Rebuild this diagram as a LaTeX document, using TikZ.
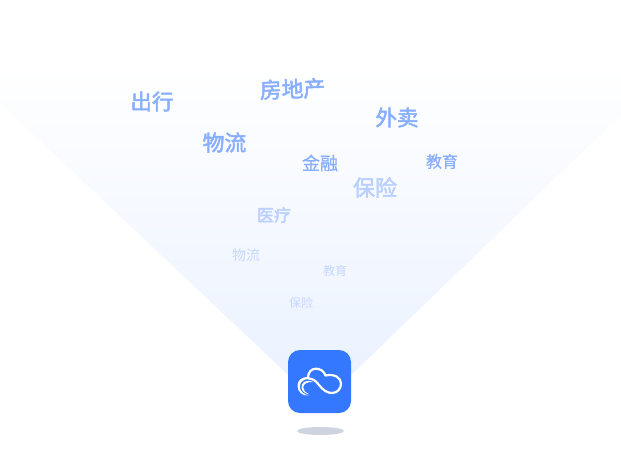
\documentclass[tikz,border=0pt]{standalone}
\usepackage{fontspec}
\setmainfont{Noto Sans CJK SC}
\newfontfamily\wordheavy[FakeBold=2.2]{Noto Sans CJK SC}
\newfontfamily\wordmedium[FakeBold=0.5]{Noto Sans CJK SC}
\definecolor{fanblue}{HTML}{E9F1FF}
\definecolor{iconblue}{HTML}{3478FF}
\definecolor{shadowgray}{HTML}{CDD3DF}
\definecolor{wordstrong}{HTML}{88AEFF}
\definecolor{wordmid}{HTML}{BAD0FF}
\definecolor{wordpale}{HTML}{C6D7FF}
\tikzset{
	wordnear/.style={text=wordstrong, inner sep=0pt, font=\wordheavy\fontsize{#1}{#1}\selectfont},
	wordsmall/.style={text=wordstrong, inner sep=0pt, font=\wordmedium\fontsize{#1}{#1}\selectfont},
	wordmiddle/.style={text=wordmid, inner sep=0pt, font=\wordheavy\fontsize{#1}{#1}\selectfont},
	wordfar/.style={text=wordpale, inner sep=0pt, font=\fontsize{#1}{#1}\selectfont},
	cloudline/.style={draw=white, line cap=round, line join=round, fill=none}
}
\begin{document}
\begin{tikzpicture}[x=1pt, y=-1pt]
		\useasboundingbox (0,0) rectangle (621,461);

		\shade[top color=white, bottom color=fanblue, shading angle=0]
			(0,65) -- (621,65) -- (621,115) -- (320,405) -- (0,103) -- cycle;

		\node[wordnear=21.5] (travel) at(152, 101.5){出行};
		\node[wordnear=21.8, rotate=2] (estate) at(292.5, 89){房地产};
		\node[wordnear=21.5] (takeout) at(397, 117.5){外卖};
		\node[wordnear=21.8] (goodsa) at(224.5, 142.5){物流};
		\node[wordsmall=18] (finance) at(320, 163){金融};
		\node[wordsmall=16] (edua) at(442, 161.5){教育};

		\node[wordmiddle=22] (insurea) at(375, 187.5){保险};
		\node[wordmiddle=17] (medical) at(274, 215){医疗};

		\node[wordfar=14] (goodsb) at(246, 255.5){物流};
		\node[wordfar=12] (edub) at(335, 271){教育};
		\node[wordfar=12] (insureb) at(301, 302.5){保险};

		\draw[fill=iconblue, draw=none, rounded corners=12] (288,350) rectangle (351,413);
			\draw[cloudline, line width=2.2]
				(308.5,378.5) .. controls (313,378.5) and (316,381) .. (319,385)
				.. controls (323,390) and (327,393) .. (332,393)
				.. controls (338,393) and (341,388) .. (341,383.5)
				.. controls (341,378) and (335,373.5) .. (325.5,375.5)
				.. controls (324,371) and (320,368.7) .. (316,368.7)
				.. controls (311,368.7) and (308,372.5) .. (308,378);
			\fill[white]
				(309,377) .. controls (301,376.5) and (297,381) .. (297.5,386.5)
				.. controls (298,392) and (302,396) .. (309,395.5)
				.. controls (303.5,394.5) and (299.8,391) .. (299.8,386.5)
				.. controls (299.8,382) and (304,378.8) .. (309,379) -- cycle;
			\fill[white]
				(313,382) .. controls (306,378.5) and (300.5,383) .. (301.5,388)
				.. controls (302.5,392) and (305.5,394) .. (309,394)
				.. controls (305.5,392.5) and (303.2,390.5) .. (303.2,387.5)
				.. controls (303.2,383.5) and (308,381.5) .. (313,382) -- cycle;
		\draw[fill=shadowgray, draw=none] (320.5,431) ellipse (23.5 and 4);
	\end{tikzpicture}
\end{document}
